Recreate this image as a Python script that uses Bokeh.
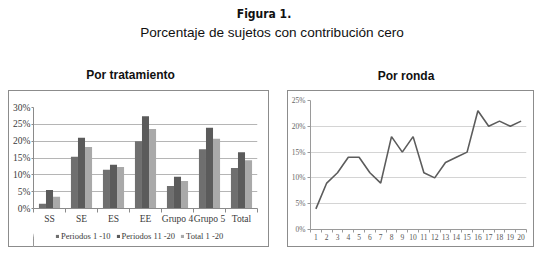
from bokeh.plotting import figure
from bokeh.models import (Range1d, FixedTicker, PrintfTickFormatter, ColumnDataSource,
                          Div, Spacer, Legend, LegendItem)
from bokeh.layouts import column, row
from bokeh.transform import dodge
from bokeh.embed import file_html
from bokeh.resources import INLINE

# ---------------- data ----------------
title_main = "Figura 1."
title_sub = "Porcentaje de sujetos con contribución cero"
title_left = "Por tratamiento"
title_right = "Por ronda"

categories = ["SS", "SE", "ES", "EE", "Grupo 4", "Grupo 5", "Total"]
series_names = ["Periodos 1 -10", "Periodos 11 -20", "Total 1 -20"]
periodos_1_10 = [1.4, 15.4, 11.5, 20.0, 6.7, 17.6, 12.0]
periodos_11_20 = [5.5, 21.0, 13.0, 27.4, 9.4, 24.0, 16.7]
total_1_20 = [3.5, 18.3, 12.3, 23.6, 8.2, 20.7, 14.3]
left_yticks = [0, 5, 10, 15, 20, 25, 30]

rondas = list(range(1, 21))
ronda_values = [4, 9, 11, 14, 14, 11, 9, 18, 15, 18, 11, 10, 13, 14, 15, 23, 20, 21, 20, 21]
right_yticks = [0, 5, 10, 15, 20, 25]

# ---------------- styles ----------------
BOX = {"box-shadow": "inset 0 0 0 1px #8c8c8c", "background-color": "white"}
SERIF = "Liberation Serif"
bar_colors = ["#6f6f6f", "#5b5b5b", "#a9a9a9"]

# ---------------- left chart ----------------
ncat = len(categories)
centers = [i + 0.5 for i in range(ncat)]
bounds = list(range(ncat + 1))
src = ColumnDataSource(dict(x=centers, a=periodos_1_10, b=periodos_11_20, c=total_1_20))

p1 = figure(frame_width=224, frame_height=101, x_range=Range1d(0, ncat), y_range=Range1d(0, 30),
            output_backend="svg", toolbar_location=None,
            min_border_left=25, min_border_right=12, min_border_top=17, min_border_bottom=24)
p1.outline_line_color = None
p1.border_fill_alpha = 0
p1.background_fill_color = "white"

bw = 0.22
offsets = [-bw, 0, bw]
cols = ["a", "b", "c"]
for col, off, colr in zip(cols, offsets, bar_colors):
    p1.vbar(x=dodge("x", off, range=p1.x_range), top=col, width=bw,
            source=src, fill_color=colr, line_color=None)

p1.xaxis.ticker = FixedTicker(ticks=centers, minor_ticks=bounds)
p1.xaxis.major_label_overrides = {c: lab for c, lab in zip(centers, categories)}
p1.xaxis.major_tick_out = 0
p1.xaxis.major_tick_in = 0
p1.xaxis.minor_tick_out = 4
p1.xaxis.minor_tick_in = 0
p1.xaxis.minor_tick_line_color = "#8a8a8a"
p1.xaxis.axis_line_color = "#8a8a8a"
p1.xaxis.major_label_standoff = 1
p1.xaxis.major_label_text_font = SERIF
p1.xaxis.major_label_text_font_size = "9.5px"
p1.xaxis.major_label_text_color = "#3a3a3a"

p1.yaxis.ticker = FixedTicker(ticks=left_yticks)
p1.yaxis.formatter = PrintfTickFormatter(format="%d%%")
p1.yaxis.major_tick_out = 2
p1.yaxis.major_tick_in = 0
p1.yaxis.minor_tick_line_color = None
p1.yaxis.major_tick_line_color = "#8a8a8a"
p1.yaxis.axis_line_color = "#8a8a8a"
p1.yaxis.major_label_standoff = 1
p1.yaxis.major_label_text_font = SERIF
p1.yaxis.major_label_text_font_size = "9.5px"
p1.yaxis.major_label_text_color = "#3a3a3a"

p1.xgrid.grid_line_color = None
p1.ygrid.ticker = FixedTicker(ticks=left_yticks)
p1.ygrid.grid_line_color = "#b5b5b5"

# legend strip under the left chart (same series, drawn outside its visible range)
pl = figure(width=261, height=15, x_range=Range1d(100, 101), y_range=Range1d(0, 30),
            output_backend="svg", toolbar_location=None,
            x_axis_location=None, y_axis_location=None, min_border=0)
pl.outline_line_color = None
pl.border_fill_alpha = 0
pl.background_fill_alpha = 0
pl.xgrid.grid_line_color = None
pl.ygrid.grid_line_color = None
lr = []
for col, off, colr in zip(cols, offsets, bar_colors):
    lr.append(pl.vbar(x=dodge("x", off, range=pl.x_range), top=col, width=bw,
                      source=src, fill_color=colr, line_color=None))
legend = Legend(items=[LegendItem(label=n, renderers=[r]) for n, r in zip(series_names, lr)],
                orientation="horizontal", location=(22, 6),
                label_text_font=SERIF, label_text_font_size="8.5px", label_text_color="#3a3a3a",
                glyph_width=4, glyph_height=4, label_standoff=2, spacing=5,
                padding=0, margin=0, label_height=9, border_line_color=None,
                background_fill_alpha=0)
pl.add_layout(legend, "center")

left_block = column(p1, pl, styles=BOX)

# ---------------- right chart ----------------
p2 = figure(frame_width=216, frame_height=129, x_range=Range1d(0.5, 20.5), y_range=Range1d(0, 25),
            output_backend="svg", toolbar_location=None,
            min_border_left=23, min_border_right=8, min_border_top=10, min_border_bottom=18)
p2.styles = BOX
p2.outline_line_color = None
p2.border_fill_alpha = 0
p2.background_fill_color = "white"
p2.line(rondas, ronda_values, line_color="#5c5c5c", line_width=1.6)

p2.xaxis.ticker = FixedTicker(ticks=rondas, minor_ticks=[r - 0.5 for r in rondas] + [rondas[-1] + 0.5])
p2.xaxis.major_tick_out = 0
p2.xaxis.major_tick_in = 0
p2.xaxis.minor_tick_out = 3
p2.xaxis.minor_tick_in = 0
p2.xaxis.minor_tick_line_color = "#9a9a9a"
p2.xaxis.axis_line_color = "#9a9a9a"
p2.xaxis.major_label_standoff = 1
p2.xaxis.major_label_text_font = SERIF
p2.xaxis.major_label_text_font_size = "7.5px"
p2.xaxis.major_label_text_color = "#555555"

p2.yaxis.ticker = FixedTicker(ticks=right_yticks)
p2.yaxis.formatter = PrintfTickFormatter(format="%d%%")
p2.yaxis.major_tick_out = 3
p2.yaxis.major_tick_in = 0
p2.yaxis.minor_tick_line_color = None
p2.yaxis.major_tick_line_color = "#9a9a9a"
p2.yaxis.axis_line_color = "#9a9a9a"
p2.yaxis.major_label_standoff = 2
p2.yaxis.major_label_text_font = SERIF
p2.yaxis.major_label_text_font_size = "7.5px"
p2.yaxis.major_label_text_color = "#666666"

p2.xgrid.grid_line_color = None
p2.ygrid.ticker = FixedTicker(ticks=right_yticks)
p2.ygrid.grid_line_color = "#d4d4d4"

# ---------------- header ----------------
SANS = "'Liberation Sans', Arial, sans-serif"
html = f"""
<div style="position:relative;width:546px;height:90px;font-family:{SANS};color:#111;">
  <div style="position:absolute;left:0;top:8px;width:528px;text-align:center;font-weight:bold;
       font-size:12px;line-height:12px;font-family:'Liberation Sans Narrow','DejaVu Sans Condensed',{SANS};">{title_main}</div>
  <div style="position:absolute;left:0;top:26px;width:544px;text-align:center;
       font-size:13.6px;line-height:13.6px;">{title_sub}</div>
  <div style="position:absolute;left:0;top:69px;width:261px;text-align:center;font-weight:bold;
       font-size:12px;line-height:12px;">{title_left}</div>
  <div style="position:absolute;left:300px;top:70px;width:212px;text-align:center;font-weight:bold;
       font-size:12px;line-height:12px;">{title_right}</div>
</div>
"""
header = Div(text=html, width=546, height=90, margin=0)

layout = column(header,
                row(Spacer(width=8), left_block, Spacer(width=18), column(p2)),
                )

open("out.html", "w").write(file_html(layout, INLINE))
